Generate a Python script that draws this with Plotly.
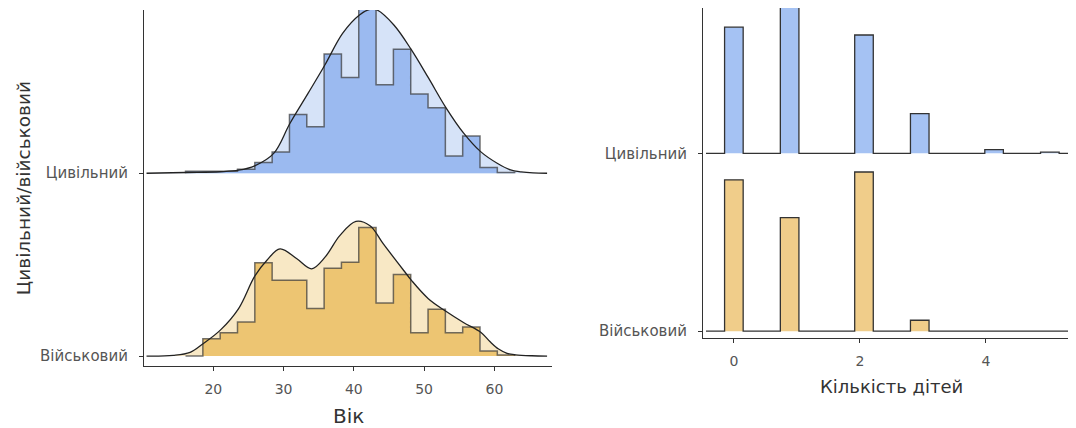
import numpy as np
import plotly.graph_objects as go

# ---------------- data ----------------
groups = ["Військовий", "Цивільний"]

# Age histogram (percent of group per bin)
age_bin_start = 16.05
age_bin_width = 2.465
age_hist_civil = [0.2, 0.2, 0.2, 0.42, 1.13, 2.25, 6.23, 4.93, 12.64, 10.17,
                  17.39, 9.40, 13.17, 8.42, 6.94, 1.83, 3.94, 0.60, 0.07]
age_hist_military = [0.0, 1.83, 2.46, 3.62, 9.89, 8.03, 8.03, 5.04, 9.32, 9.96,
                     13.65, 5.63, 8.66, 2.46, 4.96, 2.46, 3.09, 0.53, 0.11]

# Density curves (same units)
dens_civil_x = [10.5, 16.0, 21.0, 23.6, 25.9, 28.6, 30.9, 33.5, 35.9, 38.4, 40.8,
                42.3, 43.3, 45.7, 48.2, 50.6, 53.1, 55.6, 58.0, 60.4, 62.3, 63.8, 65.5, 67.5]
dens_civil_y = [0.0, 0.08, 0.16, 0.32, 0.79, 2.11, 5.28, 8.50, 11.51, 14.84, 16.79,
                17.39, 17.32, 15.73, 13.09, 10.14, 6.97, 4.28, 2.32, 1.06, 0.35, 0.14, 0.03, 0.0]
dens_mil_x = [10.5, 14.3, 16.7, 18.6, 21.0, 23.6, 25.9, 27.6, 29.5, 31.9, 34.0, 35.9,
              38.0, 40.3, 42.3, 44.2, 47.1, 48.2, 50.6, 53.1, 55.6, 58.1, 59.4, 60.6,
              61.8, 63.0, 65.3, 67.5]
dens_mil_y = [0.0, 0.07, 0.39, 1.34, 2.75, 5.04, 8.48, 10.14, 11.37, 10.32, 9.26, 10.49,
              12.78, 14.29, 13.83, 11.9, 9.08, 8.03, 6.09, 4.75, 3.56, 2.5, 1.51, 0.74,
              0.29, 0.13, 0.03, 0.0]

# Number of children (percent of group)
children = [0, 1, 2, 3, 4, 5]
kids_civil = [29.0, 33.6, 27.2, 9.1, 0.85, 0.25]
kids_military = [34.8, 26.1, 36.6, 2.5, 0.0, 0.0]
kids_bin_width = 0.295

age_ticks = [20, 30, 40, 50, 60]
kids_ticks = [0, 2, 4]

# ---------------- style ----------------
OFF = 8                     # page body margin
W, H = 1076 - OFF, 428 - OFF
BLUE_H, BLUE_L = "#9bbaf0", "#d6e3f8"
TAN_H, TAN_L = "#edc572", "#f8e8c5"
BLUE_R, TAN_R = "#a5c2f3", "#f0cd8a"
AX = "#333333"
TICKC = "#555555"
FONT = "DejaVu Sans"


def px(x):
    return min(1.0, max(0.0, (x - OFF) / W))


def py(y):
    return min(1.0, max(0.0, 1 - (y - OFF) / H))


scale_age = 0.05155   # y-units per percent (left)
scale_kids = 0.02445  # y-units per percent (right)

fig = go.Figure()


def step_polygon(edges, heights, base, sc):
    xs, ys = [edges[0]], [base]
    for i, h in enumerate(heights):
        xs += [edges[i], edges[i + 1]]
        ys += [base + h * sc, base + h * sc]
    xs.append(edges[-1])
    ys.append(base)
    return xs, ys


age_edges = [age_bin_start + i * age_bin_width for i in range(len(age_hist_civil) + 1)]

left_sets = [
    (0, dens_mil_x, dens_mil_y, age_hist_military, TAN_H, TAN_L),
    (1, dens_civil_x, dens_civil_y, age_hist_civil, BLUE_H, BLUE_L),
]
for base, dx, dy, hist, ch, cl in left_sets:
    fig.add_trace(go.Scatter(x=[dx[0], dx[-1]], y=[base, base], mode="lines",
                             line=dict(width=0, color=cl), hoverinfo="skip",
                             showlegend=False, xaxis="x", yaxis="y"))
    fig.add_trace(go.Scatter(x=dx, y=[base + v * scale_age for v in dy], mode="lines",
                             line=dict(width=0, shape="spline", smoothing=1.0, color=cl),
                             fill="tonexty", fillcolor=cl, hoverinfo="skip",
                             showlegend=False, xaxis="x", yaxis="y"))
    hx, hy = step_polygon(age_edges, hist, base, scale_age)
    fig.add_trace(go.Scatter(x=hx, y=hy, mode="lines", fill="toself", fillcolor=ch,
                             line=dict(width=1.5, color="rgba(55,55,55,0.7)"),
                             hoverinfo="skip", showlegend=False, xaxis="x", yaxis="y"))
    fig.add_trace(go.Scatter(x=dx, y=[base + v * scale_age for v in dy], mode="lines",
                             line=dict(width=1.3, shape="spline", smoothing=1.0, color="#222222"),
                             hoverinfo="skip", showlegend=False, xaxis="x", yaxis="y"))

kids_bins = list(range(-1, 20))
right_sets = [(0, kids_military, TAN_R), (1, kids_civil, BLUE_R)]
for base, vals, col in right_sets:
    hmap = {int(round(c / kids_bin_width)): v for c, v in zip(children, vals)}
    heights = [hmap.get(k, 0.0) for k in kids_bins]
    edges = [(k - 0.5) * kids_bin_width for k in kids_bins] + [(kids_bins[-1] + 0.5) * kids_bin_width]
    hx, hy = step_polygon(edges, heights, base, scale_kids)
    fig.add_trace(go.Scatter(x=hx, y=hy, mode="lines", fill="toself", fillcolor=col,
                             line=dict(width=1.3, color="#333333"),
                             hoverinfo="skip", showlegend=False, xaxis="x2", yaxis="y2"))

axis_common = dict(showline=True, linecolor=AX, linewidth=1.1, ticks="outside",
                   ticklen=4, tickcolor=AX, tickwidth=1.1, showgrid=False,
                   zeroline=False)
xfont = dict(family=FONT, size=14, color=TICKC)
yfont = dict(family=FONT, size=15, color=TICKC)

fig.update_layout(
    width=W, height=H, margin=dict(l=0, r=0, t=0, b=0),
    paper_bgcolor="white", plot_bgcolor="white",
    xaxis=dict(domain=[px(144), px(552)], range=[10.14, 68.2], tickvals=age_ticks,
               anchor="y", ticklabelstandoff=6, tickfont=xfont, **axis_common),
    yaxis=dict(domain=[py(368), py(10)], range=[-0.056, 1.893], tickvals=[0, 1],
               ticktext=groups, anchor="x", ticklabelstandoff=8, tickfont=yfont, **axis_common),
    xaxis2=dict(domain=[px(703), 1.0], range=[-0.49, 5.43], tickvals=kids_ticks,
                anchor="y2", ticklabelstandoff=6, tickfont=xfont, **axis_common),
    yaxis2=dict(domain=[py(340), py(8)], range=[-0.041, 1.817], tickvals=[0, 1],
                ticktext=groups, anchor="x2", ticklabelstandoff=8, tickfont=yfont, **axis_common),
)

fig.add_annotation(text="Вік", x=px(348), y=py(418), xref="paper", yref="paper",
                   showarrow=False, xanchor="center", yanchor="middle",
                   font=dict(family=FONT, size=20, color="#333333"))
fig.add_annotation(text="Кількість дітей", x=px(891), y=py(388), xref="paper", yref="paper",
                   showarrow=False, xanchor="center", yanchor="middle",
                   font=dict(family=FONT, size=18, color="#333333"))
fig.add_annotation(text="Цивільний/військовий", x=px(23), y=py(189), xref="paper", yref="paper",
                   showarrow=False, xanchor="center", yanchor="middle", textangle=-90,
                   font=dict(family=FONT, size=18.5, color="#333333"))

fig.write_html("out.html")
